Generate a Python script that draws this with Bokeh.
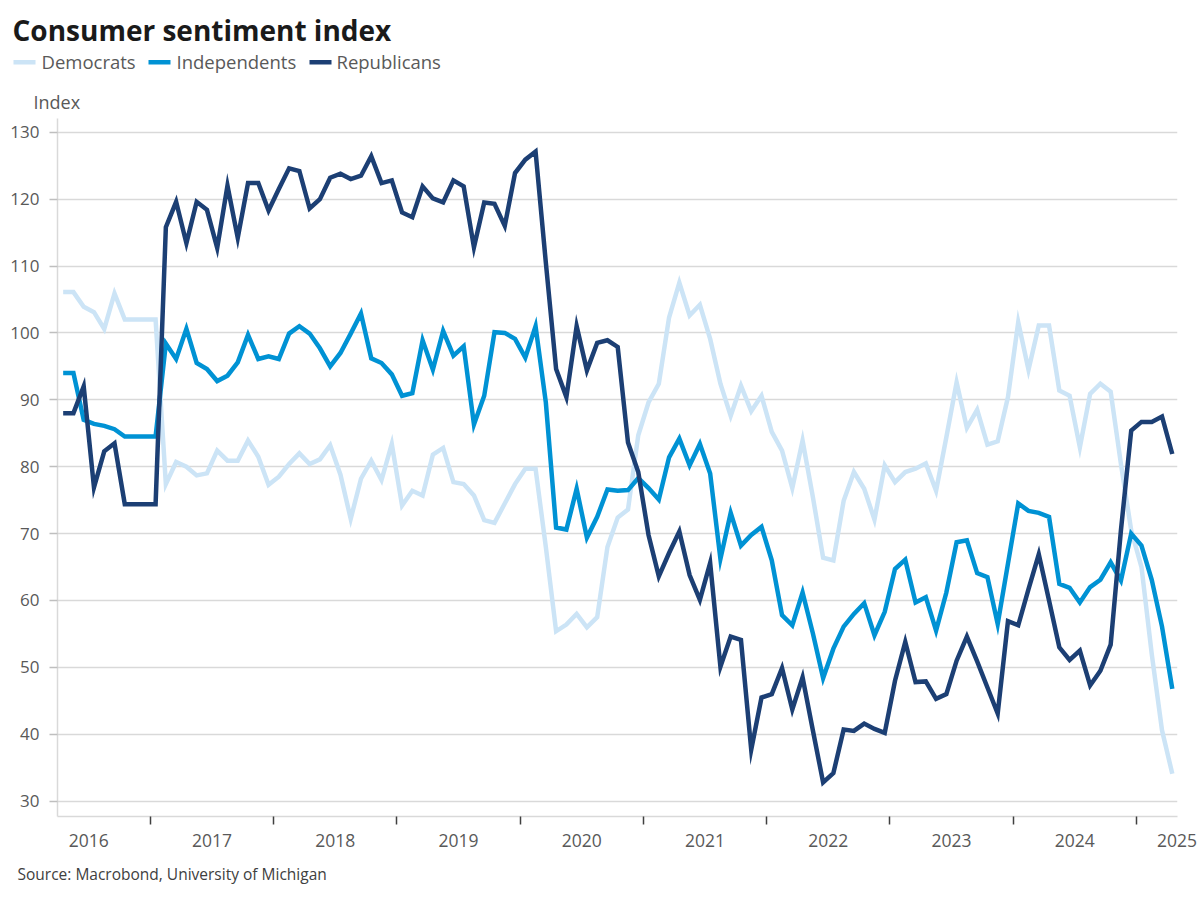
from bokeh.plotting import figure
from bokeh.layouts import column
from bokeh.models import (FixedTicker, CustomJSTickFormatter, Range1d, ColumnDataSource)
from bokeh.core.properties import value
from bokeh.embed import file_html
from bokeh.resources import INLINE

# ---------------- data (monthly, Apr 2016 .. Apr 2025) ----------------
start_year = 2016
start_month = 4

democrats = [
    106.1, 106.1, 103.9, 103.1, 100.6, 105.9, 102.0, 102.0, 102.0, 102.0,
    77.4, 80.7, 80.0, 78.7, 79.0, 82.4, 80.9, 80.9, 83.9, 81.5,
    77.3, 78.5, 80.4, 82.0, 80.4, 81.1, 83.2, 78.8, 72.2, 78.2,
    80.9, 78.0, 83.4, 74.2, 76.4, 75.7, 81.8, 82.8, 77.7, 77.4,
    75.7, 72.0, 71.6, 74.5, 77.4, 79.7, 79.7, 68.0, 55.4, 56.4,
    58.0, 56.0, 57.5, 68.0, 72.4, 73.6, 84.7, 89.6, 92.4, 102.3,
    107.5, 102.6, 104.2, 99.1, 92.4, 87.6, 92.1, 88.3, 90.6, 85.2,
    82.4, 76.8, 83.9, 75.5, 66.4, 66.0, 74.9, 79.2, 76.7, 72.1,
    80.2, 77.7, 79.2, 79.7, 80.5, 76.4, 84.4, 92.6, 85.8, 88.5,
    83.3, 83.8, 90.4, 101.6, 94.5, 101.1, 101.1, 91.4, 90.6, 82.9,
    90.9, 92.4, 91.2, 80.4, 70.5, 65.0, 52.0, 40.6, 34.1,
]

independents = [
    94.0, 94.0, 87.0, 86.4, 86.1, 85.6, 84.5, 84.5, 84.5, 84.5,
    98.4, 96.1, 100.6, 95.5, 94.6, 92.8, 93.6, 95.6, 99.7, 96.1,
    96.5, 96.1, 99.9, 101.0, 99.9, 97.7, 95.0, 97.0, 99.9, 102.9,
    96.2, 95.5, 93.8, 90.6, 91.0, 98.9, 94.5, 100.3, 96.6, 98.0,
    86.3, 90.6, 100.1, 100.0, 99.1, 96.3, 101.0, 89.6, 70.9, 70.6,
    76.7, 69.4, 72.5, 76.6, 76.4, 76.5, 78.3, 76.8, 75.1, 81.4,
    84.2, 80.2, 83.4, 79.0, 66.2, 73.1, 68.2, 69.8, 71.0, 66.0,
    57.8, 56.3, 61.2, 55.1, 48.4, 52.8, 56.1, 58.0, 59.6, 54.8,
    58.3, 64.7, 66.1, 59.7, 60.5, 55.5, 61.2, 68.7, 69.0, 64.1,
    63.5, 56.5, 65.5, 74.5, 73.4, 73.1, 72.5, 62.5, 61.9, 59.7,
    62.0, 63.1, 65.7, 63.0, 70.0, 68.2, 63.1, 56.1, 46.8,
]

republicans = [
    88.0, 88.0, 92.0, 76.9, 82.3, 83.5, 74.4, 74.4, 74.4, 74.4,
    115.8, 119.6, 113.4, 119.6, 118.4, 112.7, 122.0, 114.2, 122.4, 122.4,
    118.3, 121.5, 124.6, 124.2, 118.6, 120.0, 123.2, 123.8, 123.0, 123.5,
    126.4, 122.4, 122.8, 118.0, 117.3, 121.9, 120.1, 119.5, 122.8, 121.9,
    112.8, 119.5, 119.3, 116.0, 123.9, 125.9, 127.1, 110.5, 94.6, 90.4,
    101.0, 94.4, 98.5, 98.9, 97.9, 83.6, 79.2, 69.8, 63.6, 67.1,
    70.3, 63.8, 60.1, 65.6, 50.1, 54.6, 54.1, 37.7, 45.5, 46.0,
    49.9, 43.7, 48.5, 40.6, 32.8, 34.2, 40.7, 40.5, 41.6, 40.8,
    40.2, 48.0, 53.8, 47.8, 47.9, 45.3, 46.0, 51.0, 54.6, 50.9,
    47.0, 43.1, 56.9, 56.3, 61.7, 66.9, 60.0, 53.0, 51.1, 52.5,
    47.3, 49.5, 53.4, 70.5, 85.4, 86.7, 86.7, 87.5, 81.9,
]

series_names = ["Democrats", "Independents", "Republicans"]
series_colors = ["#CCE4F6", "#0092D4", "#1C3F74"]

year_labels = ["2016", "2017", "2018", "2019", "2020",
               "2021", "2022", "2023", "2024", "2025"]
y_ticks = [30, 40, 50, 60, 70, 80, 90, 100, 110, 120, 130]

title_text = "Consumer sentiment index"
unit_text = "Index"
source_text = "Source: Macrobond, University of Michigan"

# x as fractional year, plotted at mid-month
n = len(democrats)
x = [start_year + (start_month - 1 + i + 0.5) / 12.0 for i in range(n)]
src = ColumnDataSource(dict(x=x, dem=democrats, ind=independents, rep=republicans))

FONT = "Open Sans"
TXT = "#595959"
W = 1200
LW = 4.5


def no_align(f):
    try:
        f.frame_align = False
    except Exception:
        pass


def blank(height):
    f = figure(width=W, height=height, output_backend="svg", toolbar_location=None,
               x_range=Range1d(0, W), y_range=Range1d(height, 0),
               x_axis_location=None, y_axis_location=None,
               min_border=0, min_border_left=0, min_border_right=0,
               min_border_top=0, min_border_bottom=0)
    f.grid.visible = False
    f.outline_line_color = None
    f.background_fill_color = "white"
    f.border_fill_color = "white"
    no_align(f)
    return f


# ---------------- header: title, legend, unit ----------------
HEAD_H = 116
head = blank(HEAD_H)
head.text(x=[12], y=[29], text=[title_text], text_font=value(FONT),
          text_font_size=value("28px"), text_font_style="bold",
          text_color="#1A1A1A", text_baseline="alphabetic", text_align="left")

leg_x0 = [13, 148, 309]
leg_tx = [41, 176, 336]
head.segment(x0=leg_x0, x1=[v + 22 for v in leg_x0], y0=[61.7] * 3, y1=[61.7] * 3,
             line_color=series_colors, line_width=LW)
head.text(x=leg_tx, y=[61] * 3, text=series_names,
          text_font=value(FONT), text_font_size=value("18.5px"), text_color=TXT,
          text_baseline="alphabetic", text_align="left")
head.text(x=[33], y=[101], text=[unit_text], text_font=value(FONT),
          text_font_size=value("18px"), text_color=TXT,
          text_baseline="alphabetic", text_align="left")

# ---------------- main chart ----------------
x_start = 2016.2457
x_end = 2025.334
TOP_B = 118 - HEAD_H          # frame top at page y=118
FRAME_H = 698                 # frame bottom at page y=816
MAIN_H = 742

p = figure(width=W, height=MAIN_H, output_backend="svg", toolbar_location=None,
           x_range=Range1d(x_start, x_end), y_range=Range1d(27.71, 132.05),
           min_border_left=57, min_border_right=W - 1177, min_border_top=TOP_B,
           min_border_bottom=MAIN_H - TOP_B - FRAME_H)
p.outline_line_color = None
p.background_fill_color = "white"
p.border_fill_color = "white"
no_align(p)

p.xaxis.ticker = FixedTicker(
    ticks=[int(l) + 0.5 for l in year_labels[:-1]] + [x_end - 0.004],
    minor_ticks=[int(l) for l in year_labels[1:]])
p.xaxis.formatter = CustomJSTickFormatter(
    args=dict(labels=year_labels, first=int(year_labels[0])),
    code="return labels[Math.floor(tick) - first];")
p.xaxis.major_tick_out = 0
p.xaxis.major_tick_in = 0
p.xaxis.minor_tick_out = 8
p.xaxis.minor_tick_in = 0
p.xaxis.minor_tick_line_color = "#404040"
p.xaxis.minor_tick_line_width = 1.5
p.xaxis.axis_line_color = "#D9D9D9"
p.xaxis.axis_line_width = 1.5
p.xaxis.major_label_standoff = 9
p.xaxis.major_label_text_font = FONT
p.xaxis.major_label_text_font_size = "17.5px"
p.xaxis.major_label_text_color = TXT

p.yaxis.ticker = FixedTicker(ticks=y_ticks)
p.yaxis.minor_tick_out = 0
p.yaxis.minor_tick_in = 0
p.yaxis.major_tick_out = 8
p.yaxis.major_tick_in = 0
p.yaxis.major_tick_line_color = "#BFBFBF"
p.yaxis.major_tick_line_width = 1.5
p.yaxis.axis_line_color = "#D9D9D9"
p.yaxis.axis_line_width = 1.5
p.yaxis.major_label_standoff = 10
p.yaxis.major_label_text_font = FONT
p.yaxis.major_label_text_font_size = "17px"
p.yaxis.major_label_text_color = TXT

p.xgrid.grid_line_color = None
p.ygrid.ticker = FixedTicker(ticks=y_ticks)
p.ygrid.grid_line_color = "#D9D9D9"
p.ygrid.grid_line_width = 1.5

for col, color in zip(["dem", "ind", "rep"], series_colors):
    p.line("x", col, source=src, line_color=color, line_width=LW, line_join="miter")

# ---------------- footer: source ----------------
FOOT_H = 38
foot = blank(FOOT_H)
foot.text(x=[17], y=[15.5], text=[source_text], text_font=value(FONT),
          text_font_size=value("15.5px"), text_color="#404040",
          text_baseline="alphabetic", text_align="left")

layout = column(head, p, foot, spacing=0)
open("out.html", "w").write(file_html(layout, INLINE))
